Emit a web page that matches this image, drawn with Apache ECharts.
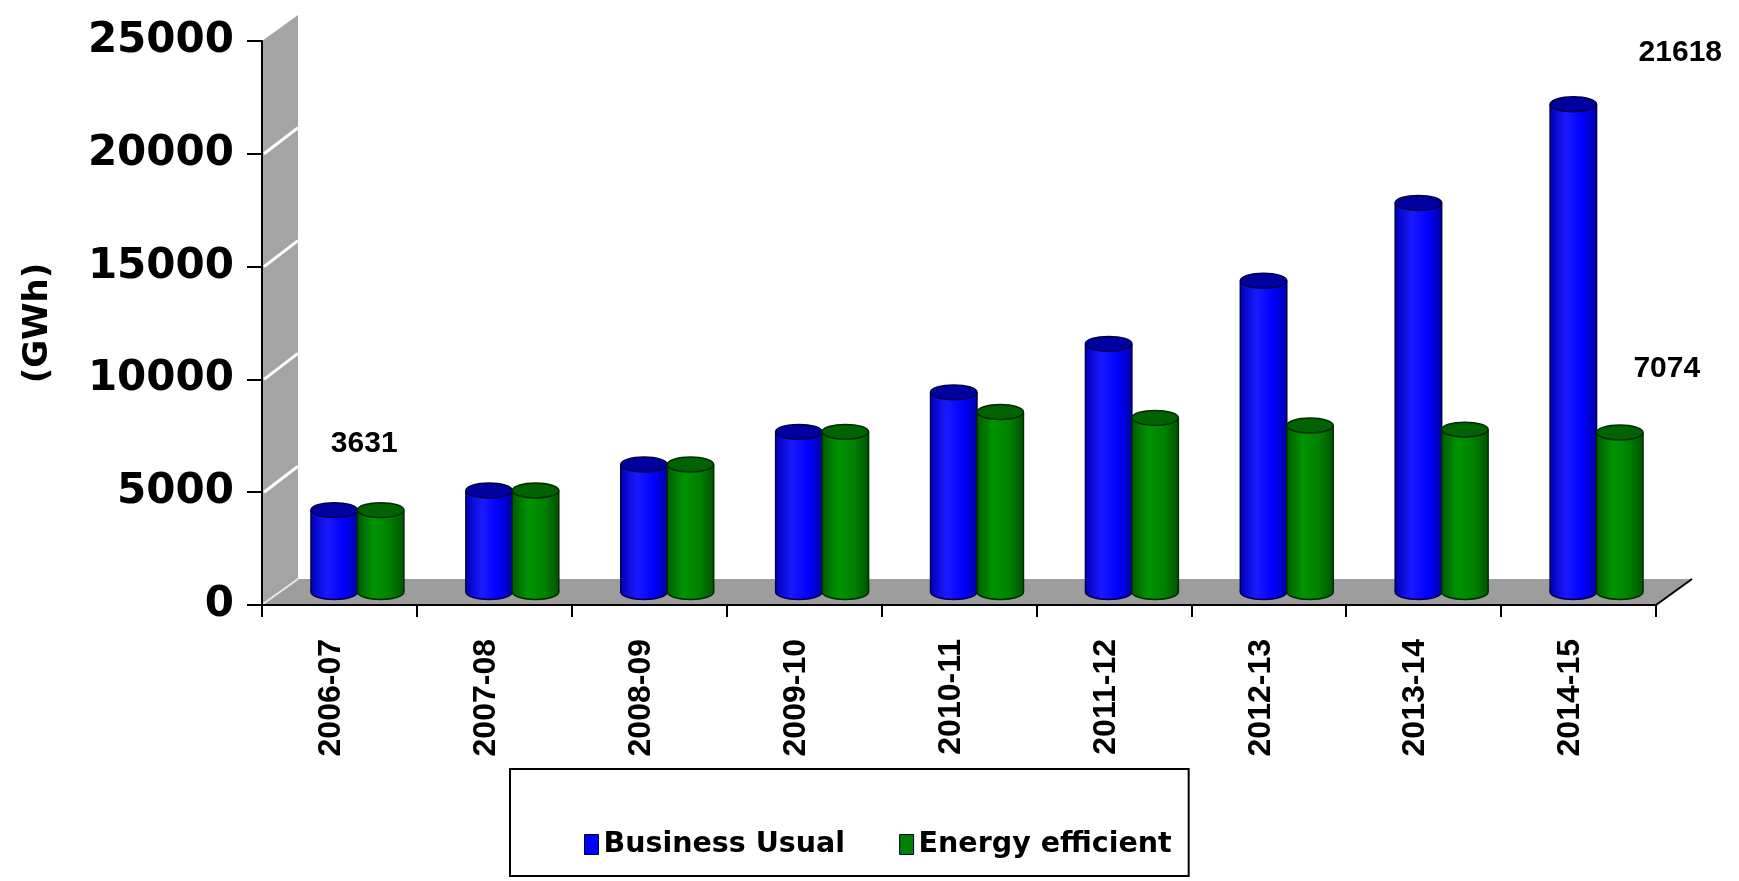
<!DOCTYPE html>
<html><head><meta charset="utf-8">
<script src="https://cdn.jsdelivr.net/npm/echarts@6/dist/echarts.min.js"></script>
<style>html,body{margin:0;padding:0;background:#fff}#chart{width:1739px;height:881px}</style>
</head><body><div id="chart"></div>
<script>
// ---------- data ----------
const categories = ['2006-07','2007-08','2008-09','2009-10','2010-11','2011-12','2012-13','2013-14','2014-15'];
const businessUsual = [3631, 4500, 5650, 7100, 8850, 11000, 13800, 17250, 21618];
const energyEfficient = [3631, 4500, 5650, 7100, 7980, 7720, 7380, 7200, 7074];
const yTicks = [0, 5000, 10000, 15000, 20000, 25000];
const seriesNames = ['Business Usual', 'Energy efficient'];
const labelledPoints = ['0-0', '0-8', '1-8']; // seriesIndex-dataIndex with a value label

// ---------- styling / layout ----------
const GRID = {left: 262, top: 41, width: 1394, height: 564};
const DEPTH = {dx: 36, dy: -26};
const BAR_FRACTION = 0.30;
const LABEL_OFFSETS = {'0-0': [30, -66], '0-8': [107, -52], '1-8': [47, -64]};
const BODY = [
  ['#0000b8', '#1a1aff', '#0000ff', '#0000a8'],
  ['#005c00', '#009400', '#008000', '#005400']
];
const TOP_FILL = ['#0000a0', '#006200'];
const EDGE = ['#00004a', '#002c00'];
const LEGEND_COLORS = ['#0000ff', '#008000'];
const FONT = '"Liberation Sans", Arial, sans-serif';
const WIDE_FONT = '"DejaVu Sans", sans-serif';

function bodyGradient(si) {
  const c = BODY[si];
  return new echarts.graphic.LinearGradient(0, 0, 1, 0, [
    {offset: 0, color: c[0]}, {offset: 0.35, color: c[1]},
    {offset: 0.7, color: c[2]}, {offset: 1, color: c[3]}
  ]);
}

function makeRender(si) {
  return function (params, api) {
    const ci = api.value(0), v = api.value(1);
    const base = api.coord([ci, 0]);
    const top = api.coord([ci, v]);
    const band = api.size([1, 0])[0];
    const w = band * BAR_FRACTION;
    const cx = base[0] + (si === 0 ? -w / 2 : w / 2);
    const rx = w / 2, ry = w * 0.16;
    const x0 = cx - rx, x1 = cx + rx;
    const children = [
      {type: 'ellipse', shape: {cx: cx, cy: base[1], rx: rx, ry: ry},
        style: {fill: bodyGradient(si), stroke: EDGE[si], lineWidth: 1.5}},
      {type: 'rect', shape: {x: x0, y: top[1], width: w, height: base[1] - top[1]},
        style: {fill: bodyGradient(si)}},
      {type: 'line', shape: {x1: x0, y1: top[1], x2: x0, y2: base[1]}, style: {stroke: EDGE[si], lineWidth: 1.5}},
      {type: 'line', shape: {x1: x1, y1: top[1], x2: x1, y2: base[1]}, style: {stroke: EDGE[si], lineWidth: 1.5}},
      {type: 'ellipse', shape: {cx: cx, cy: top[1], rx: rx, ry: ry},
        style: {fill: TOP_FILL[si], stroke: EDGE[si], lineWidth: 1.5}}
    ];
    const key = si + '-' + params.dataIndex;
    if (labelledPoints.indexOf(key) >= 0) {
      const off = LABEL_OFFSETS[key];
      children.push({type: 'text', x: cx + off[0], y: top[1] + off[1],
        style: {text: String(v), fontFamily: FONT, fontWeight: 'bold',
          fontSize: 30, fill: '#000', align: 'center', verticalAlign: 'middle'}});
    }
    return {type: 'group', children: children};
  };
}

const chart = echarts.init(document.getElementById('chart'), null, {renderer: 'canvas'});

const option = {
  backgroundColor: '#fff',
  animation: false,
  grid: [
    {left: GRID.left, top: GRID.top, width: GRID.width, height: GRID.height},
    {left: GRID.left + DEPTH.dx / 2, top: GRID.top + DEPTH.dy / 2, width: GRID.width, height: GRID.height}
  ],
  xAxis: [
    {gridIndex: 0, type: 'category', data: categories, boundaryGap: true,
      axisLine: {lineStyle: {color: '#000', width: 2}},
      axisTick: {show: true, interval: 0, length: 12, alignWithLabel: false, lineStyle: {color: '#000', width: 2}},
      axisLabel: {interval: 0, rotate: 90, margin: 34, fontFamily: FONT, fontSize: 32, fontWeight: 'bold',
        color: '#000', verticalAlign: 'bottom', lineHeight: 16}},
    {gridIndex: 1, type: 'category', data: categories, show: false}
  ],
  yAxis: [
    {gridIndex: 0, type: 'value', min: yTicks[0], max: yTicks[yTicks.length - 1], interval: yTicks[1] - yTicks[0],
      axisLine: {show: true, lineStyle: {color: '#000', width: 2}},
      axisTick: {show: true, length: 15, lineStyle: {color: '#000', width: 2}},
      axisLabel: {fontFamily: WIDE_FONT, fontWeight: 'bold', fontSize: 42, color: '#000', margin: 28,
        formatter: function (v) { return String(v); }},
      splitLine: {show: false}},
    {gridIndex: 1, type: 'value', min: yTicks[0], max: yTicks[yTicks.length - 1], show: false, splitLine: {show: false}}
  ],
  legend: {
    left: 510, top: 769, orient: 'horizontal',
    padding: [61, 17, 17, 74], itemGap: 54, itemWidth: 14, itemHeight: 20,
    borderColor: '#000', borderWidth: 2, icon: 'rect',
    itemStyle: {borderColor: '#000030', borderWidth: 1},
    textStyle: {fontFamily: WIDE_FONT, fontWeight: 'bold', fontSize: 28.5, color: '#000'},
    data: seriesNames
  },
  series: [0, 1].map(function (si) {
    return {
      type: 'custom', name: seriesNames[si], xAxisIndex: 1, yAxisIndex: 1,
      renderItem: makeRender(si), clip: false, z: 3,
      itemStyle: {color: LEGEND_COLORS[si]},
      encode: {x: 0, y: 1},
      data: (si === 0 ? businessUsual : energyEfficient).map(function (v, i) { return [i, v]; })
    };
  })
};
chart.setOption(option);

// 3D-style back wall and floor, derived from grid layout and the value axis
const xL = GRID.left, xR = GRID.left + GRID.width;
const yBottom = chart.convertToPixel({yAxisIndex: 0}, yTicks[0]);
const yTop = chart.convertToPixel({yAxisIndex: 0}, yTicks[yTicks.length - 1]);
const dx = DEPTH.dx, dy = DEPTH.dy;
const graphics = [
  {type: 'polygon', z: -5, shape: {points: [[xL, yBottom], [xL, yTop], [xL + dx, yTop + dy], [xL + dx, yBottom + dy]]},
    style: {fill: '#a4a4a4'}},
  {type: 'polygon', z: -5, shape: {points: [[xL, yBottom], [xR, yBottom], [xR + dx, yBottom + dy], [xL + dx, yBottom + dy]]},
    style: {fill: '#9d9d9d'}},
  {type: 'line', z: -4, shape: {x1: xR, y1: yBottom, x2: xR + dx, y2: yBottom + dy}, style: {stroke: '#000', lineWidth: 2}},
  {type: 'line', z: -4, shape: {x1: xL + 1, y1: yBottom - 1, x2: xL + dx, y2: yBottom + dy}, style: {stroke: '#e8e8e8', lineWidth: 2}},
  {type: 'text', z: 5, x: 38, y: 323, rotation: Math.PI / 2,
    style: {text: '(GWh)', font: 'bold 34px ' + WIDE_FONT, fill: '#000', align: 'center', verticalAlign: 'middle'}}
];
yTicks.slice(1, -1).forEach(function (t) {
  const y = chart.convertToPixel({yAxisIndex: 0}, t);
  graphics.push({type: 'line', z: -4, shape: {x1: xL + 2, y1: y, x2: xL + dx, y2: y + dy},
    style: {stroke: '#ffffff', lineWidth: 3}});
});
chart.setOption({graphic: graphics});
</script></body></html>
